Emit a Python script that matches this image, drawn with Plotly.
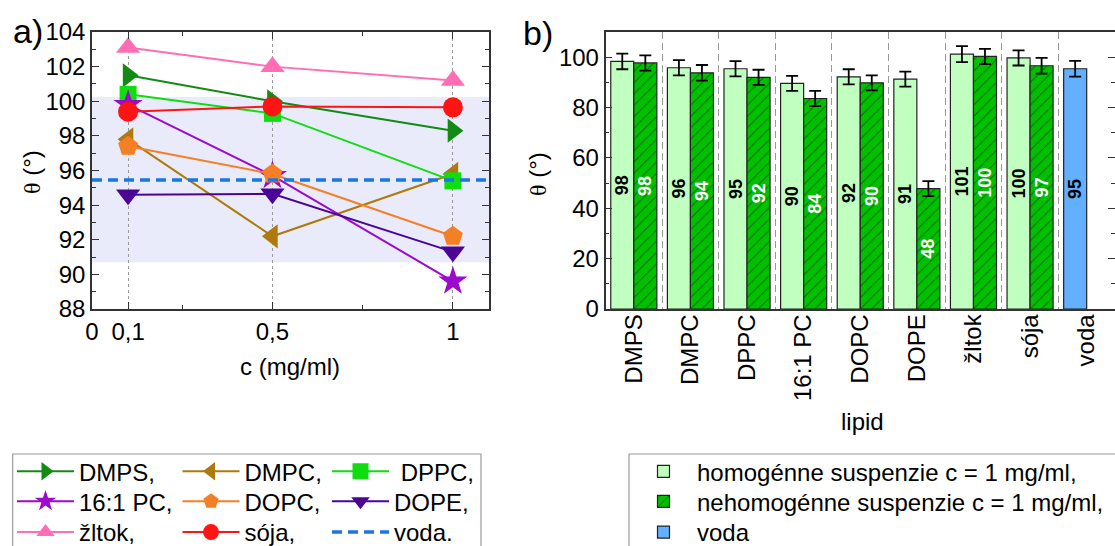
import plotly.graph_objects as go

W, H = 1115, 546

# ---------------- panel a) data ----------------
conc = [0.1, 0.5, 1.0]
conc_ticks = [0, 0.1, 0.5, 1]
conc_ticktext = ["0", "0,1", "0,5", "1"]
dmps = [101.5, 100.0, 98.3]
dmpc = [97.8, 92.2, 95.8]
dppc = [100.4, 99.3, 95.4]
pc161 = [99.8, 95.7, 89.6]
dopc = [97.4, 95.8, 92.2]
dope = [94.6, 94.65, 91.3]
zltok = [103.1, 102.0, 101.2]
soja = [99.4, 99.7, 99.65]
voda_mean = 95.45
voda_band = [90.7, 100.25]
x_range_a = [0, 1.1]

# ---------------- panel b) data ----------------
lipids = ["DMPS", "DMPC", "DPPC", "16:1 PC", "DOPC", "DOPE", "žltok", "sója", "voda"]
homog = [98.3, 95.8, 95.4, 89.6, 92.2, 91.3, 101.2, 99.7]
homog_err = [3.1, 3.0, 3.0, 3.0, 3.0, 3.0, 3.2, 3.0]
nehomog = [97.7, 93.8, 92.0, 83.6, 89.8, 47.8, 100.3, 96.6]
nehomog_err = [3.0, 3.1, 3.0, 3.0, 3.0, 3.0, 3.0, 3.1]
voda_b = [95.4]
voda_b_err = [3.1]

FONT = "Liberation Sans, Arial, sans-serif"

def px(x):
    return x / W

def py(y):
    return 1 - y / H

fig = go.Figure()

# ---- panel a traces ----
series = [
    ("DMPS,", dmps, "#138A13", "triangle-right", 21),
    ("DMPC,", dmpc, "#AE7A0C", "triangle-left", 21),
    (" DPPC,", dppc, "#10DD10", "square", 17),
    ("16:1 PC,", pc161, "#9B0ACD", "star", 22),
    ("DOPC,", dopc, "#F57F25", "pentagon", 21),
    ("DOPE,", dope, "#4A0496", "triangle-down", 21),
    ("žltok,", zltok, "#FF6EB4", "triangle-up", 21),
    ("sója,", soja, "#FF1414", "circle", 20),
]
# legend grid placement in pixels
leg_cols = [12, 177.5, 327]
leg_rows = [471.7, 501.7, 532.5]
order_pos = [(0, 0), (1, 0), (2, 0), (0, 1), (1, 1), (2, 1), (0, 2), (1, 2)]

legends = {}
for i, (name, vals, color, sym, size) in enumerate(series):
    lname = "legend" if i == 0 else f"legend{i+1}"
    c, r = order_pos[i]
    legends[lname] = dict(x=px(leg_cols[c]), y=py(leg_rows[r]), xanchor="left", yanchor="middle")
    fig.add_trace(go.Scatter(
        x=conc, y=vals, name=name, mode="lines+markers",
        line=dict(color=color, width=2),
        marker=dict(symbol=sym, size=size, color=color, line=dict(width=0)),
        xaxis="x", yaxis="y", legend=lname, cliponaxis=False, showlegend=True,
    ))

# water reference line
fig.add_trace(go.Scatter(
    x=x_range_a, y=[voda_mean, voda_mean], name="voda.", mode="lines",
    line=dict(color="#1877E5", width=3.5, dash="10px,6px"),
    xaxis="x", yaxis="y", legend="legend9", showlegend=True,
))
legends["legend9"] = dict(x=px(leg_cols[2]), y=py(leg_rows[2]), xanchor="left", yanchor="middle")

# ---- panel b traces ----
bw = 0.407
fig.add_trace(go.Bar(
    x=lipids[:8], y=homog, name="homogénne suspenzie c = 1 mg/ml,",
    width=bw, offset=-bw,
    marker=dict(color="#C0FFC0", line=dict(color="#222", width=1.2)),
    error_y=dict(type="data", array=homog_err, color="black", thickness=1.8, width=6),
    texttemplate="%{y:.0f}", textposition="inside", insidetextanchor="middle",
    textangle=-90, textfont=dict(color="black", size=18, family=FONT, weight="bold"),
    constraintext="none", xaxis="x2", yaxis="y2", legend="legend10", showlegend=True,
))
fig.add_trace(go.Bar(
    x=lipids[:8], y=nehomog, name="nehomogénne suspenzie c = 1 mg/ml,",
    width=bw, offset=0,
    marker=dict(color="#00C000", line=dict(color="#222", width=1.2),
                pattern=dict(shape="/", fgcolor="#111", bgcolor="#00C000", size=8, solidity=0.12)),
    error_y=dict(type="data", array=nehomog_err, color="black", thickness=1.8, width=6),
    texttemplate="%{y:.0f}", textposition="inside", insidetextanchor="middle",
    textangle=-90, textfont=dict(color="white", size=18, family=FONT, weight="bold"),
    constraintext="none", xaxis="x2", yaxis="y2", legend="legend11", showlegend=True,
))
fig.add_trace(go.Bar(
    x=lipids[8:], y=voda_b, name="voda",
    width=bw, offset=-bw,
    marker=dict(color="#62B0FF", line=dict(color="#222", width=1.2)),
    error_y=dict(type="data", array=voda_b_err, color="black", thickness=1.8, width=6),
    texttemplate="%{y:.0f}", textposition="inside", insidetextanchor="middle",
    textangle=-90, textfont=dict(color="black", size=18, family=FONT, weight="bold"),
    constraintext="none", xaxis="x2", yaxis="y2", legend="legend12", showlegend=True,
))
rl_rows = [471.7, 501.7, 532.5]
for j, ln in enumerate(["legend10", "legend11", "legend12"]):
    legends[ln] = dict(x=px(630), y=py(rl_rows[j]), xanchor="left", yanchor="middle")

for k, v in legends.items():
    v.update(dict(bgcolor="rgba(0,0,0,0)", borderwidth=0, itemwidth=57,
                  font=dict(family=FONT, size=24, color="black"),
                  orientation="v", itemclick=False, visible=True))

axis_common = dict(showline=True, linecolor="#333", linewidth=1.5, mirror="ticks",
                   ticks="inside", tickcolor="#333", ticklen=7, tickwidth=1.3,
                   tickfont=dict(family=FONT, size=24, color="black"), zeroline=False,
                   automargin=False)

yd = [py(309), py(32)]
fig.update_layout(
    width=W, height=H, margin=dict(l=0, r=0, t=0, b=0, autoexpand=False),
    paper_bgcolor="white", plot_bgcolor="white", barmode="overlay",
    showlegend=True,
    font=dict(family=FONT, size=24, color="black"),
    xaxis=dict(domain=[px(92), px(489)], range=x_range_a, tickmode="array",
               tickvals=conc_ticks, ticktext=conc_ticktext,
               showgrid=True, gridcolor="#999", griddash="3px,3px", gridwidth=1,
               minor=dict(tickvals=[0.25, 0.75], ticks="inside", ticklen=4, tickcolor="#333"),
               anchor="y", **axis_common),
    yaxis=dict(domain=yd, range=[88, 104], dtick=2, showgrid=False,
               minor=dict(dtick=1, ticks="inside", ticklen=4, tickcolor="#333"),
               anchor="x", **axis_common),
    xaxis2=dict(domain=[px(605.5), 1.0], range=[-0.5, 8.5], type="category",
                categoryorder="array", categoryarray=lipids, tickangle=-90,
                tickson="boundaries", showgrid=True, gridcolor="#999",
                griddash="7px,4px", gridwidth=1, anchor="y2", ticklabelstandoff=-6,
                **{**axis_common, "ticks": ""}),
    yaxis2=dict(domain=yd, range=[0, 110], dtick=20, showgrid=False,
                minor=dict(dtick=10, ticks="inside", ticklen=4, tickcolor="#333"),
                anchor="x2", **axis_common),
    **legends,
)

# water band in panel a
fig.add_shape(type="rect", xref="x domain", yref="y", x0=0, x1=1,
              y0=voda_band[0], y1=voda_band[1], fillcolor="#E9EBFB",
              line=dict(width=0), layer="below")

# legend boxes
fig.add_shape(type="rect", xref="paper", yref="paper", x0=px(12.7), x1=px(481),
              y0=py(454), y1=py(560), line=dict(color="#999", width=1.2),
              fillcolor="rgba(0,0,0,0)")
fig.add_shape(type="rect", xref="paper", yref="paper", x0=px(629), x1=px(1130),
              y0=py(454), y1=py(560), line=dict(color="#999", width=1.2),
              fillcolor="rgba(0,0,0,0)")

theta_title = '<span style="font-family:Liberation Serif">θ</span> (°)'
annots = [
    dict(text="a)", x=px(28), y=py(31), font=dict(size=34)),
    dict(text="b)", x=px(538), y=py(33), font=dict(size=34)),
    dict(text="c (mg/ml)", x=px(290), y=py(366), font=dict(size=24)),
    dict(text="lipid", x=px(862), y=py(421), font=dict(size=24)),
    dict(text=theta_title, x=px(31), y=py(172), font=dict(size=24), textangle=-90),
    dict(text=theta_title, x=px(537), y=py(174), font=dict(size=24), textangle=-90),
]
for a in annots:
    fig.add_annotation(xref="paper", yref="paper", showarrow=False,
                       xanchor="center", yanchor="middle", **a)

fig.write_html("out.html")
